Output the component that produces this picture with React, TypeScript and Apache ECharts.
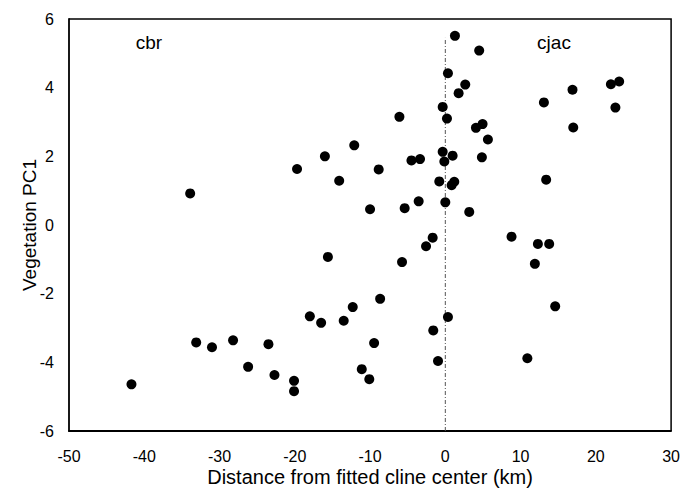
import React, { useEffect, useRef } from "react";
import * as echarts from "echarts";

const xValues: number[] = [
  -41.7, -33.9, -33.1, -31.0, -28.2, -26.2, -23.5, -22.7, -20.1, -20.1,
  -19.7, -18.0, -16.5, -16.0, -15.6, -14.1, -13.5, -12.3, -12.1, -11.1,
  -10.1, -10.0, -9.46, -8.85, -8.66, -6.1, -5.75, -5.4, -4.5, -3.54,
  -3.36, -2.56, -1.68, -1.6, -0.97, -0.8, -0.35, -0.35, -0.13, 0.0,
  0.22, 0.35, 0.35, 0.84, 0.97, 1.19, 1.28, 1.77, 2.65, 3.18,
  4.07, 4.5, 4.86, 4.95, 5.66, 8.8, 10.9, 11.9, 12.3, 13.1,
  13.4, 13.8, 14.6, 16.9, 17.0, 22.0, 22.6, 23.1,
];
const yValues: number[] = [
  -4.64, 0.92, -3.42, -3.56, -3.36, -4.13, -3.47, -4.37, -4.54, -4.84,
  1.63, -2.66, -2.85, 2.0, -0.93, 1.29, -2.79, -2.39, 2.32, -4.2,
  -4.49, 0.46, -3.44, 1.62, -2.15, 3.15, -1.08, 0.49, 1.88, 0.69,
  1.92, -0.62, -0.37, -3.07, -3.96, 1.27, 3.44, 2.13, 1.85, 0.66,
  3.1, 4.42, -2.68, 1.16, 2.02, 1.26, 5.51, 3.84, 4.09, 0.38,
  2.83, 5.08, 1.97, 2.94, 2.49, -0.34, -3.88, -1.13, -0.55, 3.57,
  1.32, -0.55, -2.37, 3.94, 2.84, 4.1, 3.42, 4.18,
];
const centerLine: number[][] = [[0, -6], [0, 5.45]];
const regionLabels = [
  { text: "cbr", x: 149, y: 42 },
  { text: "cjac", x: 554, y: 42 },
];
const xAxisTitle = "Distance from fitted cline center (km)";
const yAxisTitle = "Vegetation PC1";
const X_MIN = -50;
const X_MAX = 30;
const Y_MIN = -6;
const Y_MAX = 6;
const frameCorners: number[][] = [[X_MIN, Y_MAX], [X_MAX, Y_MAX], [X_MAX, Y_MIN]];

export default function App() {
  const ref = useRef<HTMLDivElement>(null);
  useEffect(() => {
    if (!ref.current) return;
    const chart = echarts.init(ref.current, null, { renderer: "svg" });
    const font = "Liberation Sans, Arial, sans-serif";
    chart.setOption({
      animation: false,
      backgroundColor: "#fff",
      textStyle: { fontFamily: font },
      grid: { left: 69, right: 11, top: 19, bottom: 60 },
      xAxis: {
        type: "value",
        min: X_MIN,
        max: X_MAX,
        interval: 10,
        name: xAxisTitle,
        nameLocation: "middle",
        nameGap: 36,
        nameMoveOverlap: false,
        nameTextStyle: { fontSize: 20, color: "#000", fontFamily: font },
        axisLine: { show: true, onZero: false, lineStyle: { color: "#000", width: 1.8 } },
        axisTick: { show: false },
        splitLine: { show: false },
        axisLabel: { fontSize: 16, color: "#000", margin: 17, fontFamily: font },
      },
      yAxis: {
        type: "value",
        min: Y_MIN,
        max: Y_MAX,
        interval: 2,
        name: yAxisTitle,
        nameLocation: "middle",
        nameGap: 30,
        nameMoveOverlap: false,
        nameTextStyle: { fontSize: 19, color: "#000", fontFamily: font },
        axisLine: { show: true, onZero: false, lineStyle: { color: "#000", width: 1.8 } },
        axisTick: { show: false },
        splitLine: { show: false },
        axisLabel: { fontSize: 16, color: "#000", margin: 15, fontFamily: font },
      },
      series: [
        {
          type: "scatter",
          data: xValues.map((x, i) => [x, yValues[i]]),
          symbol: "circle",
          symbolSize: 10,
          itemStyle: { color: "#000", opacity: 1 },
          z: 3,
        },
        {
          type: "line",
          data: centerLine,
          symbol: "none",
          lineStyle: { color: "#555", width: 1, type: [4, 2, 1, 2] },
          z: 1,
        },
        {
          type: "custom",
          clip: false,
          silent: true,
          z: 4,
          data: [[0, 0]],
          renderItem: (_params: any, api: any) => ({
            type: "polyline",
            shape: { points: frameCorners.map((c) => api.coord(c)) },
            style: { stroke: "#000", lineWidth: 1.5, fill: "none" },
          }),
        },
      ],
      graphic: regionLabels.map((l) => ({
        type: "text",
        x: l.x,
        y: l.y,
        style: {
          text: l.text,
          fontSize: 19,
          fontFamily: font,
          fill: "#000",
          textAlign: "center",
          textVerticalAlign: "middle",
        },
      })),
    });
    return () => chart.dispose();
  }, []);
  return (
    <div
      ref={ref}
      style={{ position: "fixed", left: 0, top: 0, width: 683, height: 492 }}
    />
  );
}
